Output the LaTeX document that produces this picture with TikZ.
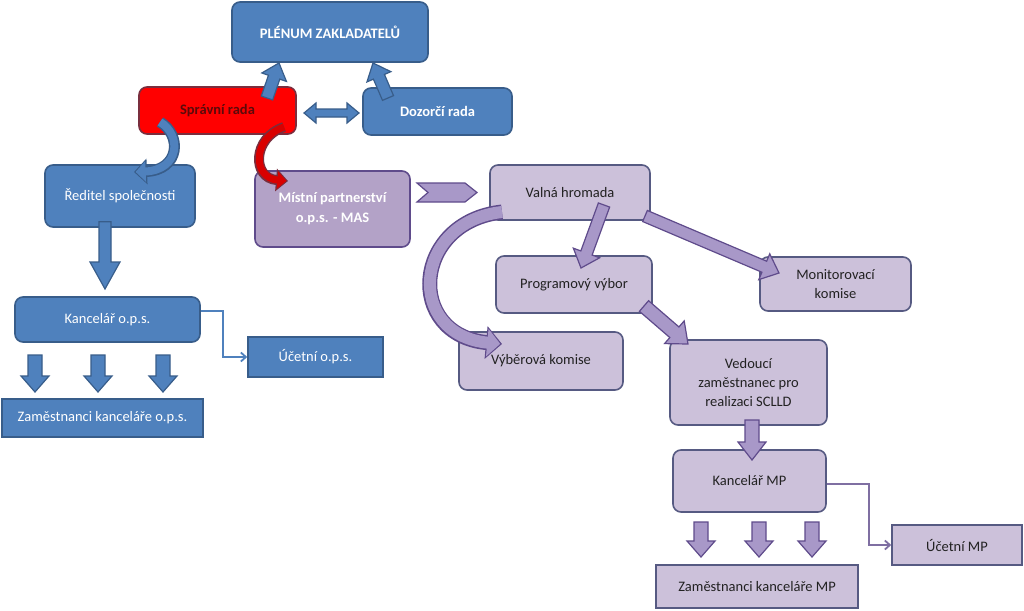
\documentclass[tikz,border=0pt]{standalone}
\usepackage{fontspec}
\setmainfont{Carlito}
\usetikzlibrary{calc,arrows.meta}
\definecolor{bfill}{HTML}{4F81BD}
\definecolor{bdraw}{HTML}{385D8A}
\definecolor{pfill}{HTML}{CCC1DA}
\definecolor{pdraw}{HTML}{565A82}
\definecolor{mfill}{HTML}{B3A2C7}
\definecolor{afill}{HTML}{A898C8}
\definecolor{adraw}{HTML}{5F4B8B}
\definecolor{redfill}{HTML}{FF0000}
\definecolor{reddraw}{HTML}{7A2E3E}
\definecolor{redtext}{HTML}{5C0A0A}
\definecolor{ptext}{HTML}{222222}
\newcommand\blockarr[6]{%
  \coordinate (ba-s) at (#2); \coordinate (ba-e) at (#3);
  \coordinate (ba-h) at ($(ba-e)!#6!(ba-s)$);
  \filldraw[#1] ($(ba-s)!#4!90:(ba-e)$) -- ($(ba-h)!#4!90:(ba-e)$) -- ($(ba-h)!#5!90:(ba-e)$)
    -- (ba-e) -- ($(ba-h)!#5!-90:(ba-e)$) -- ($(ba-h)!#4!-90:(ba-e)$) -- ($(ba-s)!#4!-90:(ba-e)$) -- cycle;
}
\tikzset{
  box/.style={draw, line width=1.6pt, align=center, inner sep=2pt, font=\fontsize{14.5}{19}\selectfont},
  boldtext/.style={font=\fontsize{14.5}{20}\selectfont\bfseries},
  rbox/.style={box, rounded corners=8pt},
  bluebox/.style={rbox, fill=bfill, draw=bdraw, text=white},
  bluerect/.style={box, fill=bfill, draw=bdraw, text=white},
  lilbox/.style={rbox, fill=pfill, draw=pdraw, text=ptext},
  lilrect/.style={box, fill=pfill, draw=pdraw, text=ptext},
  barrow/.style={fill=bfill, draw=bdraw, line width=1.2pt, line join=miter},
  parrow/.style={fill=afill, draw=adraw, line width=1.2pt, line join=miter},
  bline/.style={draw=bfill, line width=1.8pt, -{Straight Barb[length=5pt,width=9pt]}},
  pline/.style={draw=adraw!80, line width=1.8pt, -{Straight Barb[length=5pt,width=9pt]}},
}
\begin{document}
\begin{tikzpicture}[x=1pt,y=-1pt]
\useasboundingbox (0,0) rectangle (1024,610);
\fill[white] (0,0) rectangle (1024,610);
% nodes
\node[bluebox, boldtext, minimum width=196pt, minimum height=60pt] (plenum) at (330,32) {PLÉNUM ZAKLADATELŮ};
\node[rbox, fill=redfill, draw=reddraw, text=redtext, boldtext, minimum width=157pt, minimum height=47pt] (spravni) at (217.5,110.5) {Správní rada};
\node[bluebox, boldtext, minimum width=149pt, minimum height=47pt] (dozorci) at (437.5,111.5) {Dozorčí rada};
\node[bluebox, minimum width=150pt, minimum height=62pt] (reditel) at (120,196) {Ředitel společnosti};
\node[rbox, fill=mfill, draw=adraw, text=white, boldtext, minimum width=155pt, minimum height=76pt] (mistni) at (332.5,209) {Místní partnerství\\o.p.s. - MAS};
\node[bluebox, minimum width=185pt, minimum height=45pt] (kancops) at (107.5,319.5) {Kancelář o.p.s.};
\node[bluerect, minimum width=135pt, minimum height=40pt] (ucetops) at (315.5,357) {Účetní o.p.s.};
\node[bluerect, minimum width=201pt, minimum height=38pt] (zamops) at (102.5,418) {Zaměstnanci kanceláře o.p.s.};
\node[lilbox, minimum width=160pt, minimum height=55pt] (valna) at (570,192.5) {Valná hromada};
\node[lilbox, minimum width=156pt, minimum height=57pt] (program) at (574,284.5) {Programový výbor};
\node[lilbox, minimum width=151pt, minimum height=54pt] (monitor) at (835.5,284) {Monitorovací\\komise};
\node[lilbox, minimum width=164pt, minimum height=58pt] (vyber) at (541,361) {Výběrová komise};
\node[lilbox, minimum width=157pt, minimum height=85pt] (vedouci) at (748.5,382.5) {Vedoucí\\zaměstnanec pro\\realizaci SCLLD};
\node[lilbox, minimum width=153pt, minimum height=62pt] (kancmp) at (749.5,481) {Kancelář MP};
\node[lilrect, minimum width=130pt, minimum height=40pt] (ucetmp) at (957,545) {Účetní MP};
\node[lilrect, minimum width=202pt, minimum height=43pt] (zammp) at (757,586.5) {Zaměstnanci kanceláře MP};
% coordinates for arrows
\coordinate (a1s) at (267,98); \coordinate (a1e) at (279,63);
\coordinate (a2s) at (388,98); \coordinate (a2e) at (373,63);
\blockarr{barrow}{a1s}{a1e}{6pt}{13pt}{15pt}
\blockarr{barrow}{a2s}{a2e}{6pt}{13pt}{15pt}
% double arrow spravni <-> dozorci
\filldraw[barrow] (304,113) -- (316,103) -- (316,109) -- (347,109) -- (347,103) -- (359,113)
  -- (347,123) -- (347,117) -- (316,117) -- (316,123) -- cycle;
% reditel -> kancelar ops
\coordinate (a3s) at ($(reditel.south)+(-15,-6)$); \coordinate (a3e) at (105,289);
\blockarr{barrow}{a3s}{a3e}{6pt}{15pt}{27pt}
% three arrows ops
\foreach \x [count=\i] in {35,98,163}{
  \coordinate (d\i s) at (\x,355); \coordinate (d\i e) at (\x,392);
  \blockarr{barrow}{d\i s}{d\i e}{7pt}{14pt}{16pt}
}
% kancelar ops -> ucetni ops
\coordinate (k1) at (223,311);
\draw[bline] (kancops.east |- k1) -- (k1) |- (ucetops.west);
% curved blue spravni -> reditel
\coordinate (c1s) at (160,122); \coordinate (c1e) at (134,172);
\draw[line width=11pt, bdraw, -{Triangle[length=13pt,width=25pt]}] (c1s) .. controls (182,135) and (180,170) .. (c1e);
\draw[line width=8pt, bfill, -{Triangle[length=10pt,width=20pt]}, shorten >=1.6pt] (c1s) .. controls (182,135) and (180,170) .. (c1e);
% curved red spravni -> mistni
\coordinate (c2s) at (284,127); \coordinate (c2e) at (288,181);
\draw[line width=10pt, reddraw, -{Triangle[length=12pt,width=22pt]}] (c2s) .. controls (252,138) and (252,178) .. (c2e);
\draw[line width=7pt, redfill!85!black, -{Triangle[length=9pt,width=17pt]}, shorten >=1.6pt] (c2s) .. controls (252,138) and (252,178) .. (c2e);
% chevron mistni -> valna
\filldraw[parrow] (417,183) -- (465,183) -- (477,192.5) -- (465,202) -- (417,202) -- (428,192.5) -- cycle;
% big curved valna -> vyber
\coordinate (c3s) at (502,212); \coordinate (c3e) at (502,344);
\draw[line width=15pt, adraw, -{Triangle[length=16pt,width=32pt]}] (c3s) .. controls (412,222) and (405,335) .. (c3e);
\draw[line width=12pt, afill, -{Triangle[length=13pt,width=27pt]}, shorten >=1.8pt] (c3s) .. controls (412,222) and (405,335) .. (c3e);
% valna -> program
\coordinate (a4s) at (604,205); \coordinate (a4e) at (581,268);
\blockarr{parrow}{a4s}{a4e}{6pt}{14pt}{16pt}
% valna -> monitor
\coordinate (a5s) at (645,216); \coordinate (a5e) at (779,273);
\blockarr{parrow}{a5s}{a5e}{6pt}{14pt}{16pt}
% program -> vedouci
\coordinate (a6s) at (644,306); \coordinate (a6e) at (688,344);
\blockarr{parrow}{a6s}{a6e}{7pt}{15pt}{18pt}
% vedouci -> kancelar MP
\coordinate (a7s) at (752,420); \coordinate (a7e) at (752,460);
\blockarr{parrow}{a7s}{a7e}{7pt}{14pt}{18pt}
% three arrows MP
\foreach \x [count=\i] in {701,759,812}{
  \coordinate (m\i s) at (\x,522); \coordinate (m\i e) at (\x,557);
  \blockarr{parrow}{m\i s}{m\i e}{7pt}{14pt}{16pt}
}
% kancelar MP -> ucetni MP
\coordinate (k2) at (869,484);
\draw[pline] (kancmp.east |- k2) -- (k2) |- (ucetmp.west);
\end{tikzpicture}
\end{document}
